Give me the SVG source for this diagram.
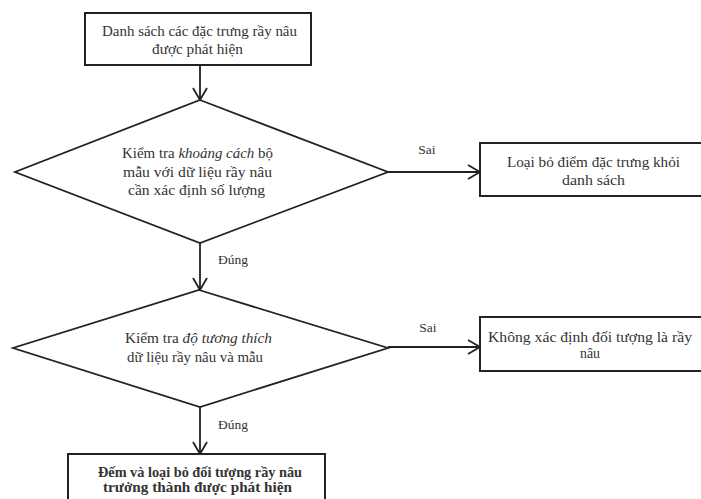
<svg xmlns="http://www.w3.org/2000/svg" width="701" height="499" viewBox="0 0 701 499">
<style>
.box{fill:#fff;stroke:#222;stroke-width:2}
.dia{fill:#fff;stroke:#222;stroke-width:1.8}
.t{font-family:"Liberation Serif","Times New Roman",serif;font-size:14.5px;fill:#333;text-anchor:middle}
.b{font-weight:bold}
.lbl{font-family:"Liberation Serif","Times New Roman",serif;font-size:13.5px;fill:#333;text-anchor:middle}
.c{stroke:#222;stroke-width:1.8;fill:none;marker-end:url(#ah)}
</style>
<defs>
<marker id="ah" markerUnits="userSpaceOnUse" markerWidth="16" markerHeight="18" refX="13" refY="8" orient="auto" viewBox="0 0 16 18">
<path d="M1,1 L13,8 L1,15" fill="none" stroke="#222" stroke-width="1.8"/>
</marker>
</defs>
<rect width="701" height="499" fill="#fff"/>
<g id="connectors">
<line class="c" x1="200" y1="65" x2="200" y2="100"/>
<line class="c" x1="388" y1="172" x2="480" y2="172"/>
<line class="c" x1="200" y1="243" x2="200" y2="290"/>
<line class="c" x1="388" y1="347" x2="480" y2="347"/>
<line class="c" x1="200" y1="407" x2="200" y2="454"/>
<text class="lbl" x="427" y="154">Sai</text>
<text class="lbl" x="428" y="332">Sai</text>
<text class="lbl" x="233" y="264">Đúng</text>
<text class="lbl" x="233" y="429">Đúng</text>
</g>
<g id="start">
<rect class="box" x="85" y="13" width="226" height="52"/>
<text class="t" x="199.5" y="36" textLength="195" lengthAdjust="spacingAndGlyphs">Danh sách các đặc trưng rầy nâu</text>
<text class="t" x="197.5" y="54" textLength="91" lengthAdjust="spacingAndGlyphs">được phát hiện</text>
</g>
<g id="check-distance">
<polygon class="dia" points="200,100 388,172 200,243 15,172"/>
<text class="t" x="197.5" y="158" textLength="151" lengthAdjust="spacingAndGlyphs">Kiểm tra <tspan font-style="italic">khoảng cách</tspan> bộ</text>
<text class="t" x="197.5" y="177" textLength="149" lengthAdjust="spacingAndGlyphs">mẫu với dữ liệu rầy nâu</text>
<text class="t" x="196.5" y="195" textLength="137" lengthAdjust="spacingAndGlyphs">cần xác định số lượng</text>
</g>
<g id="remove-feature">
<rect class="box" x="480" y="143" width="240" height="53"/>
<text class="t" x="593.5" y="167" textLength="173" lengthAdjust="spacingAndGlyphs">Loại bỏ điểm đặc trưng khỏi</text>
<text class="t" x="593.5" y="185" textLength="63" lengthAdjust="spacingAndGlyphs">danh sách</text>
</g>
<g id="check-compat">
<polygon class="dia" points="199,290 388,348 200,407 13,348"/>
<text class="t" x="198.5" y="343" textLength="147" lengthAdjust="spacingAndGlyphs">Kiểm tra <tspan font-style="italic">độ tương thích</tspan></text>
<text class="t" x="195" y="362" textLength="136" lengthAdjust="spacingAndGlyphs">dữ liệu rầy nâu và mẫu</text>
</g>
<g id="not-bph">
<rect class="box" x="480" y="317" width="240" height="54"/>
<text class="t" x="590" y="342" textLength="204" lengthAdjust="spacingAndGlyphs">Không xác định đối tượng là rầy</text>
<text class="t" x="590" y="358" textLength="20" lengthAdjust="spacingAndGlyphs">nâu</text>
</g>
<g id="count">
<rect class="box" x="68" y="454" width="257" height="60"/>
<text class="t b" x="200" y="477" textLength="204" lengthAdjust="spacingAndGlyphs">Đếm và loại bỏ đối tượng rầy nâu</text>
<text class="t b" x="197.5" y="492" textLength="189" lengthAdjust="spacingAndGlyphs">trưởng thành được phát hiện</text>
</g>
</svg>
